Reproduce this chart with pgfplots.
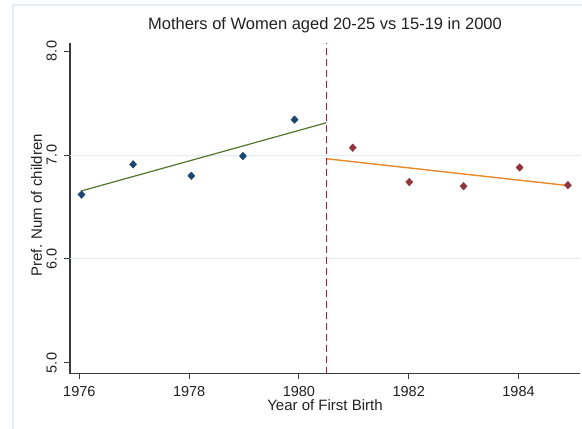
\documentclass[border=0pt]{standalone}
\usepackage{fontspec}
\setmainfont{Liberation Sans}
\usepackage{pgfplots}
\pgfplotsset{compat=1.18}
\definecolor{ptblue}{HTML}{1A476F}
\definecolor{ptred}{HTML}{90353B}
\definecolor{fitgreen}{HTML}{55752F}
\definecolor{fitorange}{HTML}{E8892A}
\definecolor{cutred}{HTML}{B8173A}
\definecolor{gridc}{HTML}{E2EBEE}
\definecolor{framec}{HTML}{E6EDF2}
\definecolor{axisgray}{HTML}{3A3A3A}
\definecolor{textc}{HTML}{222222}
\begin{document}
\begin{tikzpicture}
\useasboundingbox (0pt,0pt) rectangle (582pt,-429pt);
\fill[white] (0pt,0pt) rectangle (582pt,-429pt);
\draw[framec, line width=1.8pt] (13pt,-440pt) -- (13pt,-5pt) -- (600pt,-5pt);
\begin{axis}[
  at={(70pt,-373.7pt)}, anchor=south west,
  scale only axis, width=510pt, height=330.7pt,
  xmin=1975.83, xmax=1985.12, ymin=4.897, ymax=8.077,
  axis x line*=bottom, axis y line*=left,
  axis line style={color=axisgray, line width=1.3pt},
  xtick={1976,1978,1980,1982,1984}, ytick={5,6,7,8},
  tick align=outside, major tick length=5.7pt,
  tick style={color=axisgray, line width=1pt},
  /pgf/number format/assume math mode=true,
  x tick label style={/pgf/number format/1000 sep={}, font=\fontsize{14.5}{17}\selectfont, text=textc, inner sep=0pt, anchor=north, yshift=-6.3pt},
  y tick label style={/pgf/number format/fixed, /pgf/number format/fixed zerofill, /pgf/number format/precision=1, font=\fontsize{14.5}{17}\selectfont, text=textc, rotate=90, inner sep=0pt, anchor=base, yshift=7.6pt},
  title={Mothers of Women aged 20-25 vs 15-19 in 2000},
  title style={at={(axis description cs:0.5,1)}, anchor=base, yshift=7pt, inner sep=0pt, font=\fontsize{16.5}{19}\selectfont, text=textc},
  xlabel={Year of First Birth},
  xlabel style={at={(axis description cs:0.5,0)}, anchor=base, yshift=-36.3pt, inner sep=0pt, font=\fontsize{15}{18}\selectfont, text=textc},
  ylabel={Pref. Num of children},
  ylabel style={at={(axis description cs:0,0.5)}, anchor=base, yshift=28pt, xshift=3pt, inner sep=0pt, font=\fontsize{15}{18}\selectfont, text=textc},
  clip=false,
]
\draw[gridc, line width=1pt] (axis cs:1975.83,6) -- (axis cs:1985.12,6);
\draw[gridc, line width=1pt] (axis cs:1975.83,7) -- (axis cs:1985.12,7);
\addplot[fitgreen, line width=1.2pt, mark=none] coordinates {(1976.04,6.655) (1980.5,7.31)};
\addplot[fitorange, line width=1.4pt, mark=none] coordinates {(1980.5,6.964) (1984.92,6.705)};
\addplot[cutred, line width=1.1pt, dash pattern=on 7pt off 4pt, mark=none] coordinates {(1980.5,4.897) (1980.5,8.077)};
\addplot[only marks, mark=diamond*, mark size=3.8pt, mark options={fill=ptblue, draw=ptblue, xscale=1.25}] coordinates {
(1976.04,6.62) (1976.98,6.91) (1978.04,6.80) (1978.98,6.99) (1979.92,7.34)};
\addplot[only marks, mark=diamond*, mark size=3.8pt, mark options={fill=ptred, draw=ptred, xscale=1.25}] coordinates {
(1980.98,7.07) (1982.01,6.74) (1983.00,6.70) (1984.02,6.88) (1984.90,6.71)};
\end{axis}
\end{tikzpicture}
\end{document}
